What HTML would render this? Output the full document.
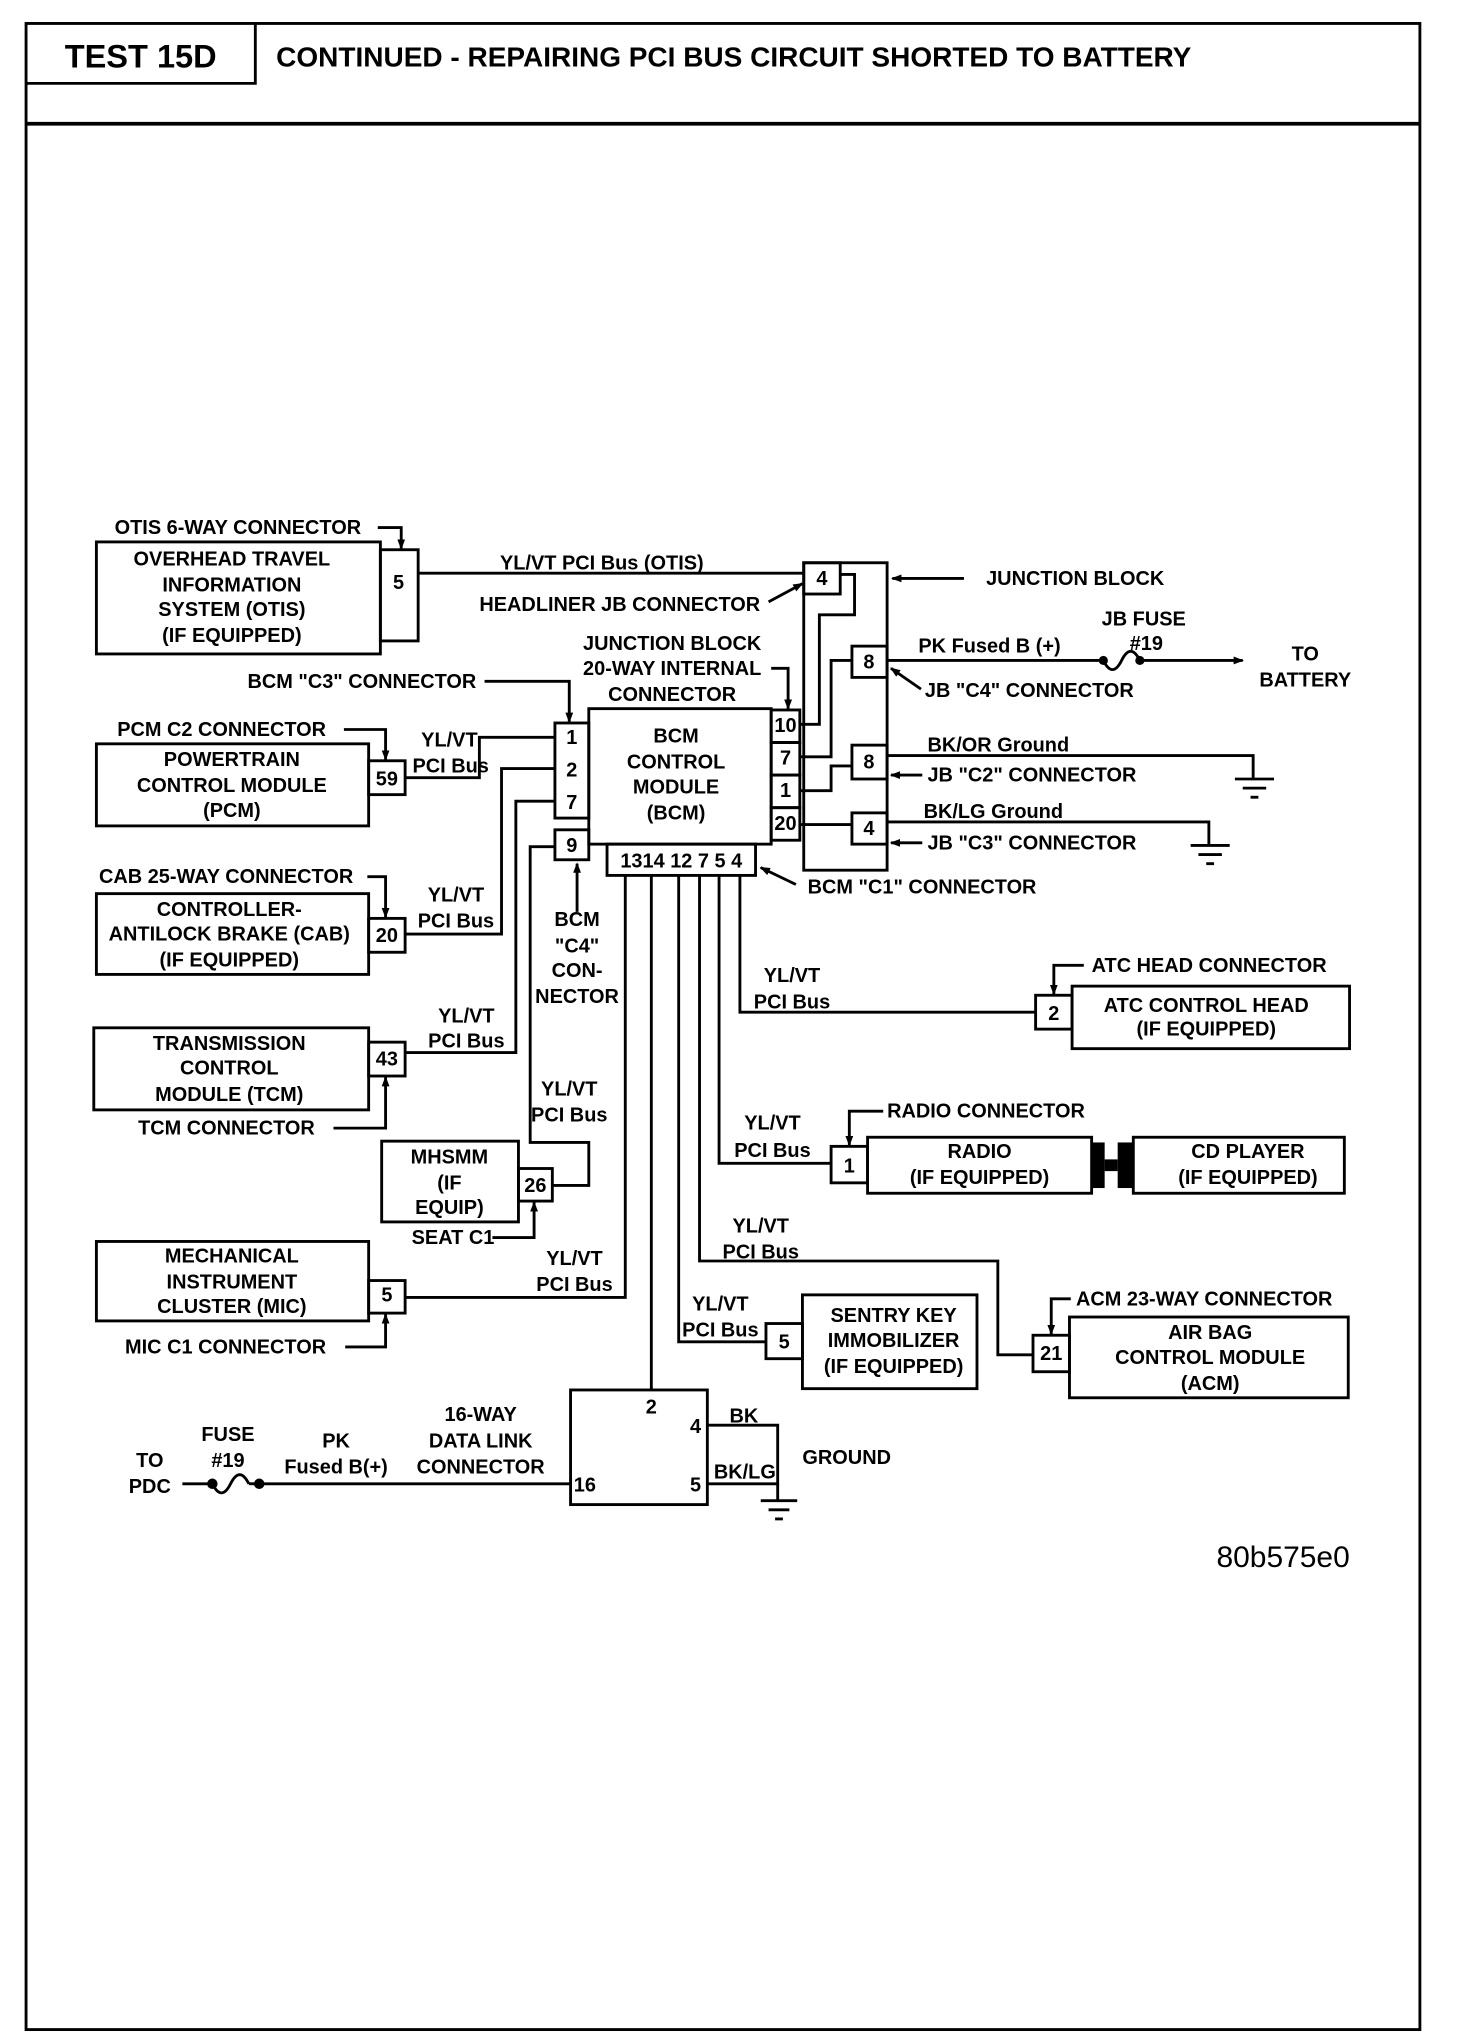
<!DOCTYPE html>
<html><head><meta charset="utf-8"><style>
html,body{margin:0;padding:0;background:#fff;}
svg{display:block;}
text{font-family:"Liberation Sans",Arial,sans-serif;font-weight:bold;font-size:15.3px;fill:#000;}
.c{text-anchor:middle;}
</style></head><body>
<svg width="1472" height="2040" viewBox="0 0 1130 1566" preserveAspectRatio="none" xmlns="http://www.w3.org/2000/svg">
<defs><marker id="a" markerWidth="8" markerHeight="8" refX="7" refY="4" orient="auto" markerUnits="userSpaceOnUse"><path d="M0,1 L8,4 L0,7 Z" fill="#000"/></marker></defs>
<g fill="none" stroke="#000" stroke-width="2.2">
<rect x="20" y="18" width="1070" height="1540"/>
<line x1="20" y1="95" x2="1090" y2="95" stroke-width="2.8"/>
<polyline points="20,64 196,64 196,18"/>
</g>
<text x="108" y="52" class="c" style="font-size:25px">TEST 15D</text>
<text x="212" y="51" style="font-size:21.5px">CONTINUED - REPAIRING PCI BUS CIRCUIT SHORTED TO BATTERY</text>

<g fill="none" stroke="#000" stroke-width="2.2">
<rect x="74" y="416" width="218" height="86"/><rect x="292" y="422" width="29" height="70"/>
<polyline points="290,405 308,405 308,421" marker-end="url(#a)"/>
<line x1="321" y1="440" x2="617" y2="440"/>
<rect x="617" y="432" width="64" height="236"/>
<rect x="617" y="432" width="28" height="24"/>
<polyline points="645,441 656,441 656,472 629,472 629,556 614,556"/>
<polyline points="590,462 616,448" marker-end="url(#a)"/>
<line x1="740" y1="444" x2="685" y2="444" marker-end="url(#a)"/>
<rect x="654" y="496" width="27" height="24"/>
<polyline points="654,507 638,507 638,581 614,581"/>
<line x1="681" y1="507" x2="847" y2="507"/>
<path d="M847,507 q7,14 14,0 q7,-14 14,0"/>
<line x1="875" y1="507" x2="954" y2="507" marker-end="url(#a)"/>
<line x1="707" y1="529" x2="684" y2="513" marker-end="url(#a)"/>
<rect x="654" y="572" width="27" height="26"/>
<polyline points="654,588 638,588 638,607 614,607"/>
<polyline points="681,580 962,580 962,598"/>
<line x1="948" y1="598" x2="978" y2="598"/><line x1="954" y1="605" x2="972" y2="605"/><line x1="960" y1="612" x2="966" y2="612"/>
<line x1="708" y1="595" x2="684" y2="595" marker-end="url(#a)"/>
<rect x="654" y="624" width="27" height="24"/>
<line x1="614" y1="633" x2="654" y2="633"/>
<polyline points="681,631 928,631 928,649"/>
<line x1="914" y1="649" x2="944" y2="649"/><line x1="920" y1="656" x2="938" y2="656"/><line x1="926" y1="663" x2="932" y2="663"/>
<line x1="708" y1="647" x2="684" y2="647" marker-end="url(#a)"/>
<rect x="452" y="544" width="140" height="104"/>
<rect x="592" y="545" width="22" height="25"/><rect x="592" y="570" width="22" height="25"/><rect x="592" y="595" width="22" height="25"/><rect x="592" y="620" width="22" height="25"/>
<rect x="426" y="555" width="26" height="73"/>
<rect x="426" y="637" width="26" height="23"/>
<rect x="466" y="648" width="114" height="24"/>
<polyline points="372,523 437,523 437,554" marker-end="url(#a)"/>
<polyline points="592,513 605,513 605,544" marker-end="url(#a)"/>
<line x1="611" y1="679" x2="584" y2="666" marker-end="url(#a)"/>
<line x1="443" y1="700" x2="443" y2="663" marker-end="url(#a)"/>
<rect x="74" y="571" width="209" height="63"/><rect x="283" y="584" width="28" height="26"/>
<polyline points="264,560 296,560 296,583" marker-end="url(#a)"/>
<polyline points="311,597 368,597 368,566 426,566"/>
<rect x="74" y="686" width="209" height="62"/><rect x="283" y="705" width="28" height="26"/>
<polyline points="282,673 296,673 296,704" marker-end="url(#a)"/>
<polyline points="311,717 385,717 385,590 426,590"/>
<rect x="72" y="789" width="211" height="63"/><rect x="283" y="800" width="28" height="26"/>
<polyline points="256,866 296,866 296,827" marker-end="url(#a)"/>
<polyline points="311,808 396,808 396,615 426,615"/>
<rect x="293" y="876" width="105" height="62"/><rect x="398" y="897" width="26" height="25"/>
<polyline points="378,950 410,950 410,923" marker-end="url(#a)"/>
<polyline points="424,910 452,910 452,877 407,877 407,650 426,650"/>
<rect x="74" y="953" width="209" height="61"/><rect x="283" y="983" width="28" height="25"/>
<polyline points="265,1034 296,1034 296,1009" marker-end="url(#a)"/>
<polyline points="311,996 480,996 480,672"/>
<polyline points="500,672 500,1067"/>
<polyline points="521,672 521,1030 588,1030"/>
<polyline points="537,672 537,968 766,968 766,1040 793,1040"/>
<polyline points="552,672 552,893 638,893"/>
<polyline points="568,672 568,777 795,777"/>
<rect x="795" y="764" width="28" height="26"/><rect x="823" y="757" width="213" height="48"/>
<polyline points="832,741 809,741 809,763" marker-end="url(#a)"/>
<rect x="638" y="880" width="28" height="28"/><rect x="666" y="873" width="172" height="43"/>
<rect x="870" y="873" width="162" height="43"/>
<polyline points="678,853 652,853 652,879" marker-end="url(#a)"/>
<rect x="588" y="1016" width="28" height="27"/><rect x="616" y="994" width="134" height="72"/>
<rect x="793" y="1025" width="28" height="28"/><rect x="821" y="1011" width="214" height="62"/>
<polyline points="822,997 807,997 807,1024" marker-end="url(#a)"/>
<rect x="438" y="1067" width="105" height="88"/>
<polyline points="543,1094 597,1094 597,1139 543,1139"/>
<line x1="597" y1="1139" x2="597" y2="1152"/>
<line x1="584" y1="1152" x2="612" y2="1152"/><line x1="590" y1="1159" x2="606" y2="1159"/><line x1="595" y1="1166" x2="601" y2="1166"/>
<line x1="200" y1="1139" x2="438" y2="1139"/>
<line x1="140" y1="1139" x2="163" y2="1139"/>
<path d="M163,1139 q7,14 14,0 q7,-14 14,0"/>
<line x1="191" y1="1139" x2="200" y2="1139"/>
</g>
<g fill="#000">
<circle cx="847" cy="507" r="3.5"/><circle cx="875" cy="507" r="3.5"/>
<circle cx="163" cy="1139" r="4"/><circle cx="199" cy="1139" r="4"/>
<rect x="838" y="877" width="10" height="35"/><rect x="858" y="877" width="12" height="35"/><rect x="848" y="890" width="10" height="9"/>
</g>

<text x="88" y="410">OTIS 6-WAY CONNECTOR</text>
<text x="178" y="434" class="c">OVERHEAD TRAVEL</text>
<text x="178" y="454" class="c">INFORMATION</text>
<text x="178" y="473" class="c">SYSTEM (OTIS)</text>
<text x="178" y="493" class="c">(IF EQUIPPED)</text>
<text x="306" y="452" class="c">5</text>
<text x="462" y="437" class="c">YL/VT PCI Bus (OTIS)</text>
<text x="368" y="469">HEADLINER JB CONNECTOR</text>
<text x="631" y="449" class="c">4</text>
<text x="757" y="449">JUNCTION BLOCK</text>
<text x="516" y="499" class="c">JUNCTION BLOCK</text>
<text x="516" y="518" class="c">20-WAY INTERNAL</text>
<text x="516" y="538" class="c">CONNECTOR</text>
<text x="878" y="480" class="c">JB FUSE</text>
<text x="880" y="499" class="c">#19</text>
<text x="705" y="501">PK Fused B (+)</text>
<text x="1002" y="507" class="c">TO</text>
<text x="1002" y="527" class="c">BATTERY</text>
<text x="667" y="513" class="c">8</text>
<text x="710" y="535">JB "C4" CONNECTOR</text>
<text x="190" y="528">BCM "C3" CONNECTOR</text>
<text x="519" y="570" class="c">BCM</text>
<text x="519" y="590" class="c">CONTROL</text>
<text x="519" y="609" class="c">MODULE</text>
<text x="519" y="629" class="c">(BCM)</text>
<text x="603" y="562" class="c">10</text>
<text x="603" y="587" class="c">7</text>
<text x="603" y="612" class="c">1</text>
<text x="603" y="637" class="c">20</text>
<text x="439" y="571" class="c">1</text>
<text x="439" y="596" class="c">2</text>
<text x="439" y="621" class="c">7</text>
<text x="439" y="654" class="c">9</text>
<text x="523" y="666" class="c">1314 12 7 5 4</text>
<text x="712" y="577">BK/OR Ground</text>
<text x="667" y="590" class="c">8</text>
<text x="712" y="600">JB "C2" CONNECTOR</text>
<text x="709" y="628">BK/LG Ground</text>
<text x="667" y="641" class="c">4</text>
<text x="712" y="652">JB "C3" CONNECTOR</text>
<text x="620" y="686">BCM "C1" CONNECTOR</text>
<text x="90" y="565">PCM C2 CONNECTOR</text>
<text x="178" y="588" class="c">POWERTRAIN</text>
<text x="178" y="608" class="c">CONTROL MODULE</text>
<text x="178" y="627" class="c">(PCM)</text>
<text x="297" y="603" class="c">59</text>
<text x="345" y="573" class="c">YL/VT</text>
<text x="346" y="593" class="c">PCI Bus</text>
<text x="76" y="678">CAB 25-WAY CONNECTOR</text>
<text x="176" y="703" class="c">CONTROLLER-</text>
<text x="176" y="722" class="c">ANTILOCK BRAKE (CAB)</text>
<text x="176" y="742" class="c">(IF EQUIPPED)</text>
<text x="297" y="723" class="c">20</text>
<text x="350" y="692" class="c">YL/VT</text>
<text x="350" y="712" class="c">PCI Bus</text>
<text x="443" y="711" class="c">BCM</text>
<text x="443" y="731" class="c">"C4"</text>
<text x="443" y="750" class="c">CON-</text>
<text x="443" y="770" class="c">NECTOR</text>
<text x="176" y="806" class="c">TRANSMISSION</text>
<text x="176" y="825" class="c">CONTROL</text>
<text x="176" y="845" class="c">MODULE (TCM)</text>
<text x="297" y="818" class="c">43</text>
<text x="358" y="785" class="c">YL/VT</text>
<text x="358" y="804" class="c">PCI Bus</text>
<text x="106" y="871">TCM CONNECTOR</text>
<text x="437" y="841" class="c">YL/VT</text>
<text x="437" y="861" class="c">PCI Bus</text>
<text x="345" y="893" class="c">MHSMM</text>
<text x="345" y="913" class="c">(IF</text>
<text x="345" y="932" class="c">EQUIP)</text>
<text x="411" y="915" class="c">26</text>
<text x="316" y="955">SEAT C1</text>
<text x="178" y="969" class="c">MECHANICAL</text>
<text x="178" y="989" class="c">INSTRUMENT</text>
<text x="178" y="1008" class="c">CLUSTER (MIC)</text>
<text x="297" y="999" class="c">5</text>
<text x="441" y="971" class="c">YL/VT</text>
<text x="441" y="991" class="c">PCI Bus</text>
<text x="96" y="1039">MIC C1 CONNECTOR</text>
<text x="608" y="754" class="c">YL/VT</text>
<text x="608" y="774" class="c">PCI Bus</text>
<text x="838" y="746">ATC HEAD CONNECTOR</text>
<text x="809" y="783" class="c">2</text>
<text x="926" y="777" class="c">ATC CONTROL HEAD</text>
<text x="926" y="795" class="c">(IF EQUIPPED)</text>
<text x="593" y="867" class="c">YL/VT</text>
<text x="593" y="888" class="c">PCI Bus</text>
<text x="681" y="858">RADIO CONNECTOR</text>
<text x="652" y="900" class="c">1</text>
<text x="752" y="889" class="c">RADIO</text>
<text x="752" y="909" class="c">(IF EQUIPPED)</text>
<text x="958" y="889" class="c">CD PLAYER</text>
<text x="958" y="909" class="c">(IF EQUIPPED)</text>
<text x="584" y="946" class="c">YL/VT</text>
<text x="584" y="966" class="c">PCI Bus</text>
<text x="826" y="1002">ACM 23-WAY CONNECTOR</text>
<text x="807" y="1044" class="c">21</text>
<text x="929" y="1028" class="c">AIR BAG</text>
<text x="929" y="1047" class="c">CONTROL MODULE</text>
<text x="929" y="1067" class="c">(ACM)</text>
<text x="553" y="1006" class="c">YL/VT</text>
<text x="553" y="1026" class="c">PCI Bus</text>
<text x="602" y="1035" class="c">5</text>
<text x="686" y="1015" class="c">SENTRY KEY</text>
<text x="686" y="1034" class="c">IMMOBILIZER</text>
<text x="686" y="1054" class="c">(IF EQUIPPED)</text>
<text x="500" y="1085" class="c">2</text>
<text x="534" y="1100" class="c">4</text>
<text x="449" y="1145" class="c">16</text>
<text x="534" y="1145" class="c">5</text>
<text x="560" y="1092">BK</text>
<text x="548" y="1135">BK/LG</text>
<text x="616" y="1124">GROUND</text>
<text x="369" y="1091" class="c">16-WAY</text>
<text x="369" y="1111" class="c">DATA LINK</text>
<text x="369" y="1131" class="c">CONNECTOR</text>
<text x="258" y="1111" class="c">PK</text>
<text x="258" y="1131" class="c">Fused B(+)</text>
<text x="175" y="1106" class="c">FUSE</text>
<text x="175" y="1126" class="c">#19</text>
<text x="115" y="1126" class="c">TO</text>
<text x="115" y="1146" class="c">PDC</text>
<text x="985" y="1203" class="c" style="font-size:23px;font-weight:normal">80b575e0</text>
</svg>
</body></html>
